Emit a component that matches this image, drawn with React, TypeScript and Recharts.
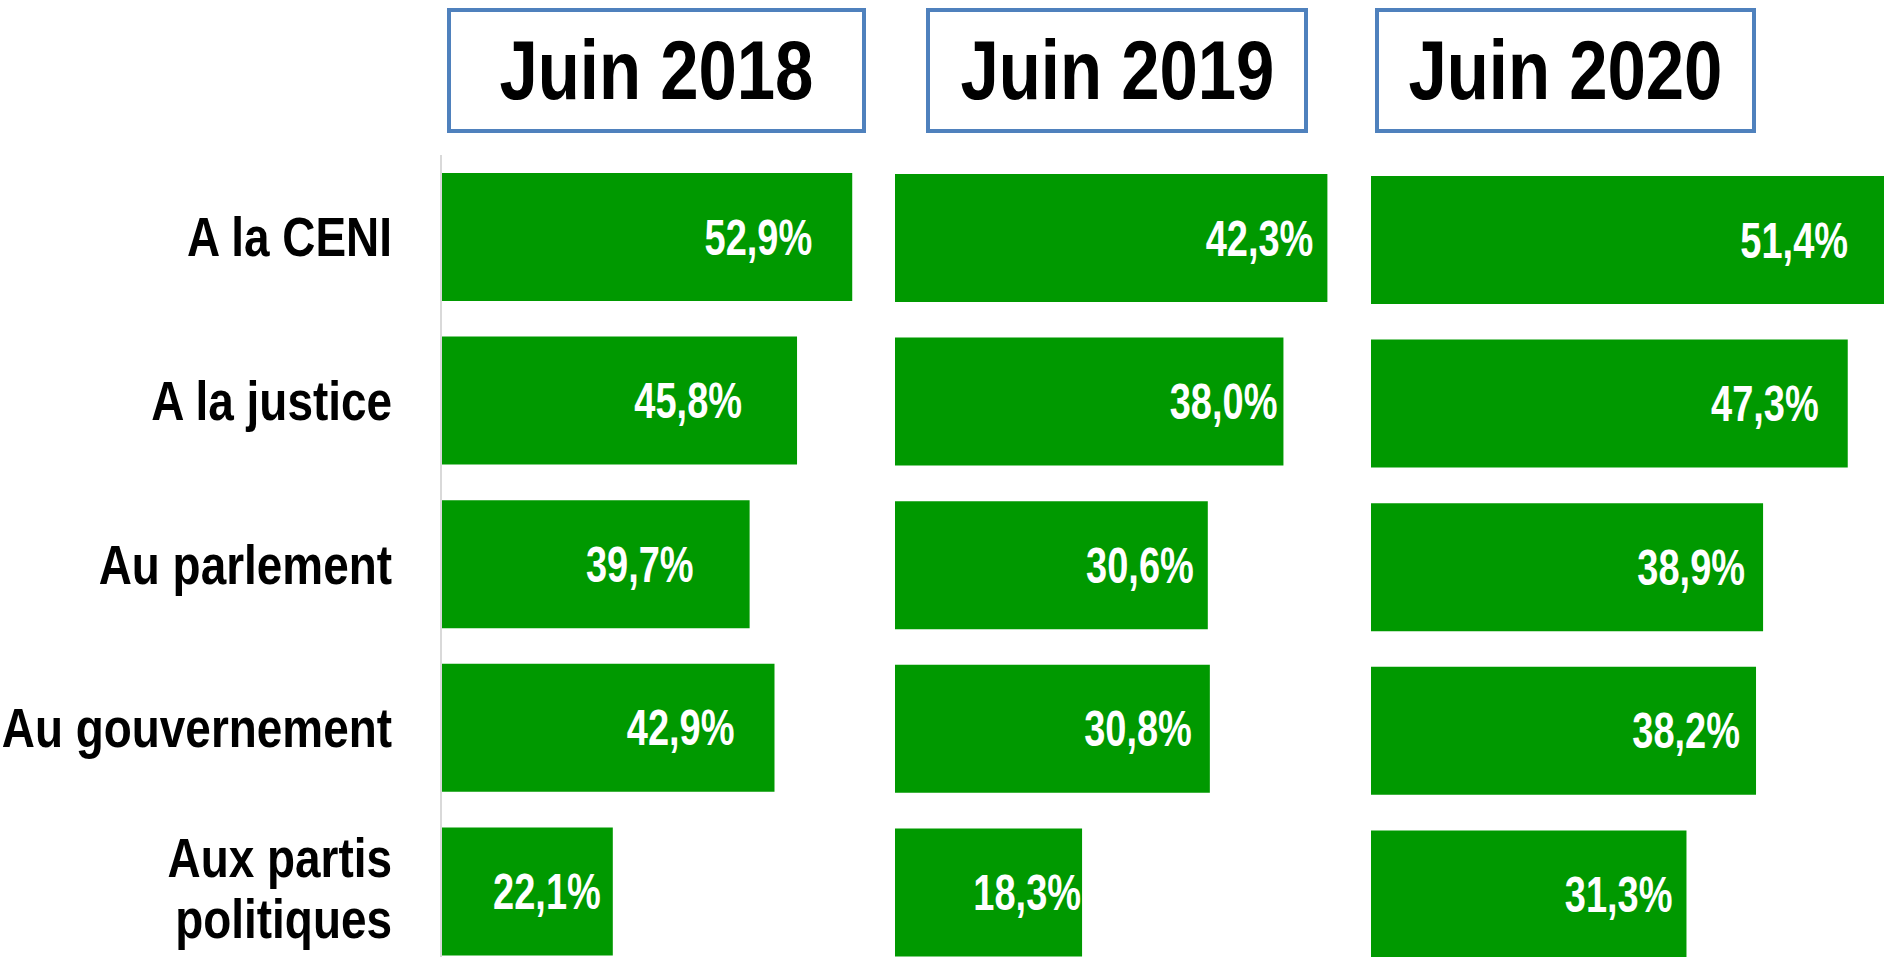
import { BarChart, Bar, XAxis, YAxis, LabelList } from "recharts";

// Confiance accordée aux institutions, par vague d'enquête
const categories = ["A la CENI", "A la justice", "Au parlement", "Au gouvernement", "Aux partis\npolitiques"];
const periods = ["Juin 2018", "Juin 2019", "Juin 2020"];
const juin2018 = [52.9, 45.8, 39.7, 42.9, 22.1];
const juin2019 = [42.3, 38.0, 30.6, 30.8, 18.3];
const juin2020 = [51.4, 47.3, 38.9, 38.2, 31.3];

const GREEN = "#009900";
const BLUE = "#4f81bd";
const FONT = "'Liberation Sans', Arial, sans-serif";

const fmt = (v: number) => v.toFixed(1).replace(".", ",") + "%";

// panneaux : position, largeur du tracé, échelle (domaine) et retrait des libellés depuis le bout de la barre
const panels = [
  { values: juin2018, left: 0, axisWidth: 441, plotWidth: 440, max: 56.6, top: 155, labelInset: [40, 55, 56, 40, 12] },
  { values: juin2019, left: 895, axisWidth: 0, plotWidth: 460, max: 45.0, top: 156, labelInset: [14, 6, 14, 18, 1] },
  { values: juin2020, left: 1371, axisWidth: 0, plotWidth: 560, max: 55.56, top: 158, labelInset: [41, 29, 18, 16, 14] },
];

const titleBoxes = [
  { left: 447, width: 419 },
  { left: 926, width: 382 },
  { left: 1375, width: 381 },
];

const CategoryTick = (props: any) => {
  const { y, payload } = props;
  const lines = String(payload.value).split("\n");
  const baselines = lines.length === 1 ? [19.6] : [-14, 47];
  return (
    <g>
      {lines.map((line, i) => (
        <text
          key={i}
          transform={`translate(392, ${y + baselines[i]}) scale(0.82, 1)`}
          textAnchor="end"
          fontFamily={FONT}
          fontWeight="bold"
          fontSize={56}
          fill="#000"
        >
          {line}
        </text>
      ))}
    </g>
  );
};

const makeValueLabel = (insets: number[]) => (props: any) => {
  const { x, y, width, height, value, index } = props;
  return (
    <text
      transform={`translate(${x + width - insets[index]}, ${y + height / 2 + 17.5}) scale(0.76, 1)`}
      textAnchor="end"
      fontFamily={FONT}
      fontWeight="bold"
      fontSize={50}
      fill="#fff"
    >
      {fmt(value)}
    </text>
  );
};

export default function App() {
  return (
    <div
      style={{
        position: "absolute",
        left: 0,
        top: 0,
        width: 1884,
        height: 957,
        overflow: "hidden",
        background: "#fff",
      }}
    >
      {titleBoxes.map((b, i) => (
        <div
          key={periods[i]}
          style={{
            position: "absolute",
            left: b.left,
            top: 8,
            width: b.width,
            height: 125,
            boxSizing: "border-box",
            border: `4px solid ${BLUE}`,
            display: "flex",
            alignItems: "center",
            justifyContent: "center",
            fontFamily: FONT,
            fontWeight: "bold",
            fontSize: 84,
            color: "#000",
          }}
        >
          <span style={{ display: "inline-block", transform: "scaleX(0.82)", whiteSpace: "nowrap" }}>
            {periods[i]}
          </span>
        </div>
      ))}

      {panels.map((p, idx) => {
        const data = categories.map((name, i) => ({ name, value: p.values[i] }));
        return (
          <div key={idx} style={{ position: "absolute", left: p.left, top: 0 }}>
            <BarChart
              width={p.axisWidth + p.plotWidth}
              height={p.top + 818 + 7}
              data={data}
              layout="vertical"
              margin={{ top: p.top, right: 0, bottom: 7, left: 0 }}
            >
              <XAxis type="number" domain={[0, p.max]} hide allowDataOverflow />
              <YAxis
                type="category"
                dataKey="name"
                hide={idx !== 0}
                width={p.axisWidth}
                axisLine={{ stroke: "#d9d9d9", strokeWidth: 2 }}
                tickLine={false}
                tick={<CategoryTick />}
                interval={0}
              />
              <Bar dataKey="value" fill={GREEN} barSize={128} isAnimationActive={false}>
                <LabelList dataKey="value" content={makeValueLabel(p.labelInset)} />
              </Bar>
            </BarChart>
          </div>
        );
      })}
    </div>
  );
}
